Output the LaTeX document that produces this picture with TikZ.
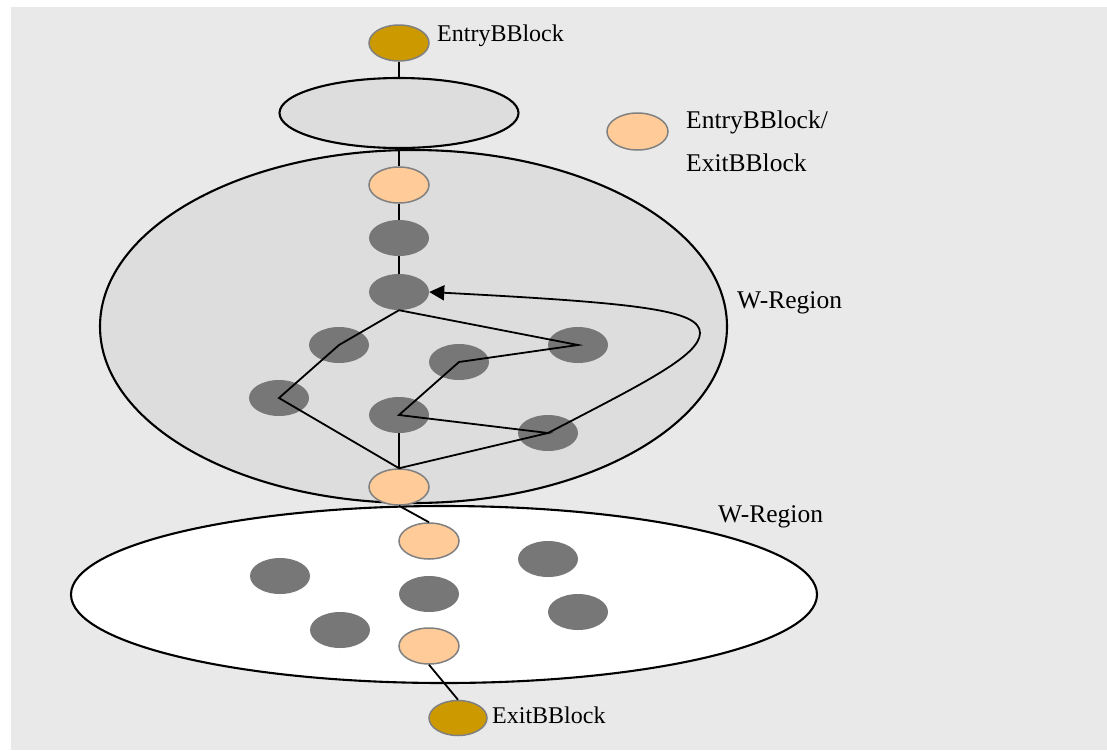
\documentclass[tikz,border=0pt]{standalone}
\usepackage{fontspec}
\setmainfont{Liberation Serif}
\usetikzlibrary{shapes.geometric,arrows.meta}
\definecolor{bggray}{HTML}{E9E9E9}
\definecolor{regfill}{HTML}{DDDDDD}
\definecolor{gold}{HTML}{CC9900}
\definecolor{peach}{HTML}{FFCC99}
\definecolor{dark}{HTML}{777777}
\definecolor{rim}{HTML}{808080}
\tikzset{
  region/.style={ellipse,draw=black,line width=2.1pt,inner sep=0pt},
  bbnode/.style={ellipse,inner sep=0pt,minimum width=60pt,minimum height=36pt},
  goldnode/.style={bbnode,fill=gold,draw=rim,line width=1.5pt},
  peachnode/.style={bbnode,fill=peach,draw=rim,line width=1.5pt},
  darknode/.style={bbnode,fill=dark},
  link/.style={draw=black,line width=1.8pt},
  lbl/.style={anchor=base west,inner sep=0pt,font=\fontsize{24}{28}\selectfont},
  biglbl/.style={anchor=base west,inner sep=0pt,font=\fontsize{25.5}{30}\selectfont}
}
\begin{document}
\begin{tikzpicture}[x=1pt,y=-1pt]
\useasboundingbox (0,0) rectangle (1107,750);
\fill[bggray] (11,7) rectangle (1107,750);
% regions
\node[region,fill=regfill,minimum width=627pt,minimum height=353pt] (wreg1) at (413.5,326.5) {};
\node[region,fill=white,minimum width=746pt,minimum height=177pt] (wreg2) at (444,594.5) {};
\node[region,fill=regfill,minimum width=239pt,minimum height=70pt] (topreg) at (399,113) {};
% nodes
\node[goldnode] (entry) at (399,43) {};
\node[peachnode] (o1) at (399,185) {};
\node[darknode] (g1) at (399,238) {};
\node[darknode] (g2) at (399,292) {};
\node[darknode] (g3) at (339,345) {};
\node[darknode] (g4) at (279,398) {};
\node[darknode] (g5) at (399,415) {};
\node[darknode] (g6) at (459,362) {};
\node[darknode] (g7) at (548,433) {};
\node[darknode] (g8) at (578,345) {};
\node[peachnode] (o2) at (399,487) {};
\node[peachnode] (o3) at (429,541) {};
\node[darknode] (h1) at (280,576) {};
\node[darknode] (h2) at (548,559) {};
\node[darknode] (h3) at (429,594) {};
\node[darknode] (h4) at (578,612) {};
\node[darknode] (h5) at (340,630) {};
\node[peachnode] (o4) at (429,646) {};
\node[goldnode,minimum width=58pt,minimum height=35pt] (exit) at (458,718) {};
\node[peachnode,minimum width=61pt,minimum height=37pt] (legend) at (637.5,131.5) {};
% connectors
\draw[link] (entry) -- (topreg);
\draw[link] (topreg) -- (o1);
\draw[link] (o1) -- (g1);
\draw[link] (g1) -- (g2);
\draw[link] (g2.south) -- (g3.center) -- (g4.center) -- (o2.north);
\draw[link] (g2.south) -- (g8.center) -- (g6.center) -- (g5.center) -- (g7.center) -- (o2.north);
\draw[link] (g5) -- (o2);
\draw[link,-{Triangle[length=15pt,width=15pt]}] (g7.center) .. controls (640,385) and (700,356) .. (700,333) .. controls (700,310) and (640,303) .. (g2.east);
\draw[link] (o2.south) -- (o3.north);
\draw[link] (o4.south) -- (exit.north);
% labels
\node[lbl] (tentry) at (437,41.7) {EntryBBlock};
\node[biglbl] (tleg1) at (686,128) {EntryBBlock/};
\node[biglbl] (tleg2) at (686,171) {ExitBBlock};
\node[biglbl] (tw1) at (737,308) {W-Region};
\node[biglbl] (tw2) at (718,522) {W-Region};
\node[lbl] (texit) at (492,723) {ExitBBlock};
\end{tikzpicture}
\end{document}
